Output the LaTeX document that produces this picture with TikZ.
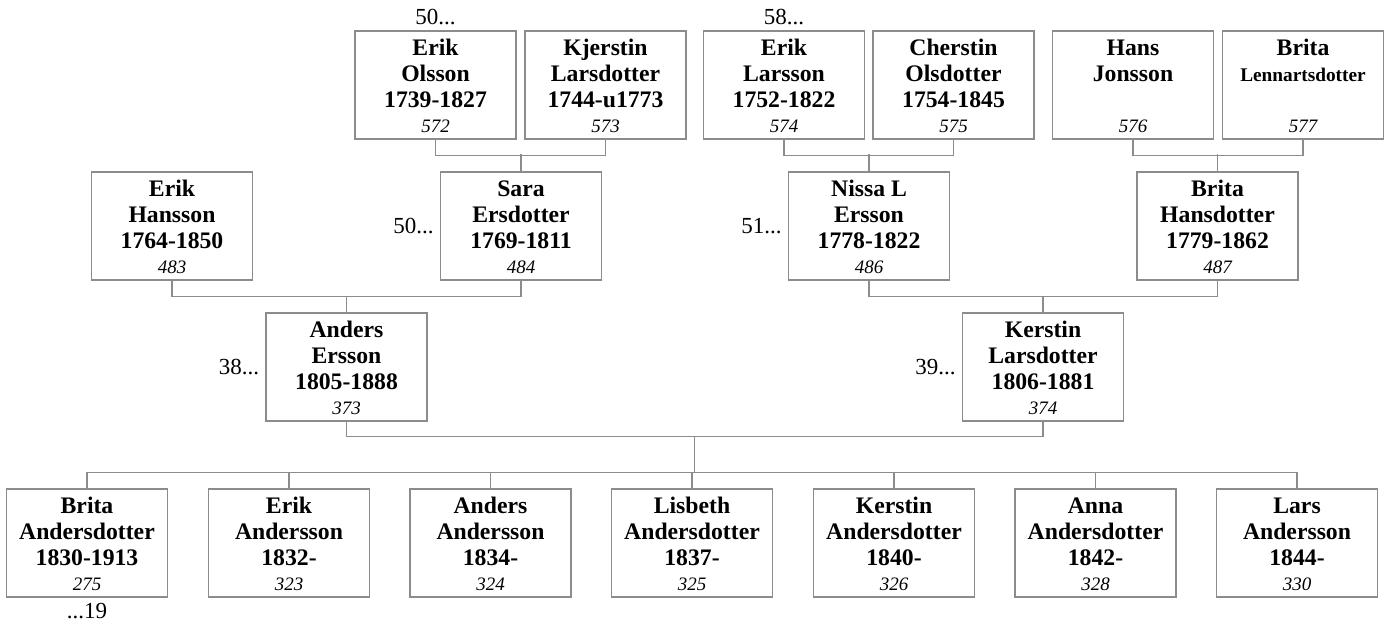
\documentclass[tikz,border=0pt]{standalone}
\usepackage{fontspec}
\setmainfont{Liberation Serif}
\usetikzlibrary{calc}
\definecolor{linegray}{RGB}{140,140,140}
\tikzset{
  box/.style={draw=linegray, line width=1.2pt, minimum width=161pt, minimum height=108pt, inner sep=0pt},
  conn/.style={draw=linegray, line width=1.2pt},
  names/.style={inner sep=0pt, font=\fontsize{23.7}{26}\selectfont\bfseries},
  numtext/.style={inner sep=0pt, font=\fontsize{19}{22}\selectfont\itshape},
  lbl/.style={inner sep=0pt, font=\fontsize{23}{26}\selectfont},
}
\newcommand\pers[5]{%
  \node[box] (#1) at (#2pt,{-(#3+54)*1pt}) {};
  \node[names, anchor=base] (#1t) at ([yshift=-25.5pt]#1.north) {\parbox[t]{158pt}{\centering\fontsize{23.7}{26}\selectfont #4}};
  \node[numtext, anchor=base] (#1n) at ([yshift=-102.5pt]#1.north) {#5};
}
\begin{document}
\begin{tikzpicture}[x=1pt,y=1pt]
\useasboundingbox (0,0) rectangle (1388,-625);
% top row
\pers{p572}{435.5}{31}{Erik\\Olsson\\1739-1827}{572}
\pers{p573}{605.5}{31}{Kjerstin\\Larsdotter\\1744-u1773}{573}
\pers{p574}{784}{31}{Erik\\Larsson\\1752-1822}{574}
\pers{p575}{953.5}{31}{Cherstin\\Olsdotter\\1754-1845}{575}
\pers{p576}{1133}{31}{Hans\\Jonsson}{576}
\pers{p577}{1303}{31}{Brita\\{\fontsize{19.3}{26}\selectfont Lennartsdotter}}{577}
% second row
\pers{p483}{172}{172}{Erik\\Hansson\\1764-1850}{483}
\pers{p484}{521}{172}{Sara\\Ersdotter\\1769-1811}{484}
\pers{p486}{869}{172}{Nissa L\\Ersson\\1778-1822}{486}
\pers{p487}{1217.5}{172}{Brita\\Hansdotter\\1779-1862}{487}
% third row
\pers{p373}{346.5}{313}{Anders\\Ersson\\1805-1888}{373}
\pers{p374}{1043}{313}{Kerstin\\Larsdotter\\1806-1881}{374}
% children
\pers{p275}{87}{489}{Brita\\Andersdotter\\1830-1913}{275}
\pers{p323}{289}{489}{Erik\\Andersson\\1832-}{323}
\pers{p324}{490.5}{489}{Anders\\Andersson\\1834-}{324}
\pers{p325}{692}{489}{Lisbeth\\Andersdotter\\1837-}{325}
\pers{p326}{894}{489}{Kerstin\\Andersdotter\\1840-}{326}
\pers{p328}{1095.5}{489}{Anna\\Andersdotter\\1842-}{328}
\pers{p330}{1297}{489}{Lars\\Andersson\\1844-}{330}
% labels
\node[lbl, anchor=base] (l572) at ([yshift=6pt]p572.north) {50...};
\node[lbl, anchor=base] (l574) at ([yshift=6pt]p574.north) {58...};
\node[lbl, anchor=east] (l484) at ([xshift=-6pt]p484.west) {50...};
\node[lbl, anchor=east] (l486) at ([xshift=-6pt]p486.west) {51...};
\node[lbl, anchor=east] (l373) at ([xshift=-6pt]p373.west) {38...};
\node[lbl, anchor=east] (l374) at ([xshift=-6pt]p374.west) {39...};
\node[lbl, anchor=base] (l275) at ([yshift=-21pt]p275.south) {...19};
% connectors: top families
\draw[conn] (p572.south) -- ++(0,-16) -| (p573.south);
\draw[conn] (p484.north) -- ++(0,17);
\draw[conn] (p574.south) -- ++(0,-16) -| (p575.south);
\draw[conn] (p486.north) -- ++(0,17);
\draw[conn] (p576.south) -- ++(0,-16) -| (p577.south);
\draw[conn] (p487.north) -- ++(0,17);
% second families
\draw[conn] (p483.south) -- ++(0,-16) -| (p484.south);
\draw[conn] (p373.north) -- ++(0,16);
\draw[conn] (p486.south) -- ++(0,-16) -| (p487.south);
\draw[conn] (p374.north) -- ++(0,16);
% main family
\draw[conn] (p373.south) -- ++(0,-15) -| (p374.south);
\coordinate (m1) at ($(p373.south)!0.5!(p374.south)+(0,-15)$);
\draw[conn] (m1) -- ++(0,-35);
\draw[conn] (p275.north) -- ++(0,16) -| (p330.north);
\draw[conn] (p323.north) -- ++(0,16);
\draw[conn] (p324.north) -- ++(0,16);
\draw[conn] (p325.north) -- ++(0,16);
\draw[conn] (p326.north) -- ++(0,16);
\draw[conn] (p328.north) -- ++(0,16);
\end{tikzpicture}
\end{document}
